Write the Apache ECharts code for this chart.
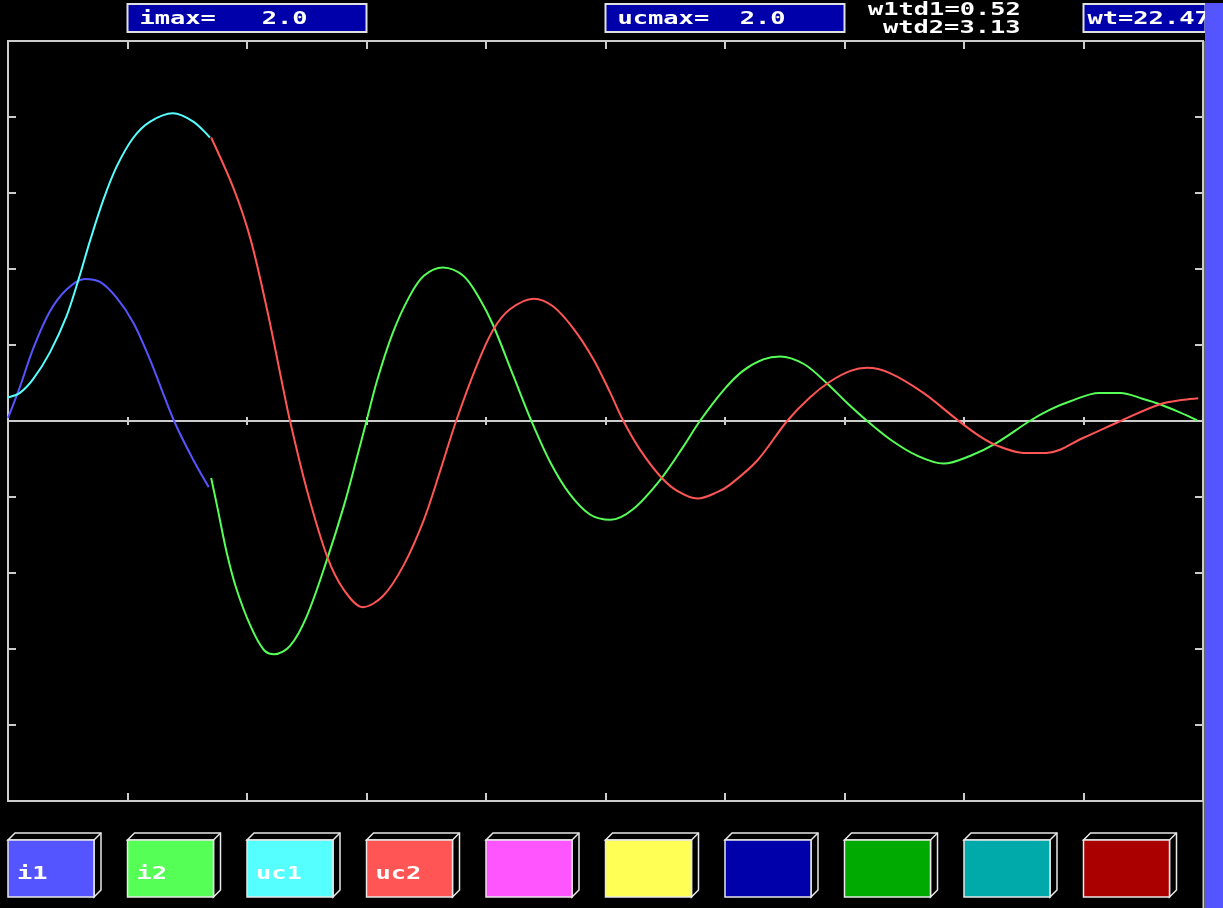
<!DOCTYPE html>
<html>
<head>
<meta charset="utf-8">
<script src="https://cdn.jsdelivr.net/npm/echarts@6/dist/echarts.min.js"></script>
<style>
html,body{margin:0;padding:0;background:#000;}
#chart{width:1223px;height:908px;}
</style>
</head>
<body>
<div id="chart"></div>
<script>
// curve values, [wt, value]
var i1 = [[0,0.04],[0.10,0.45],[0.21,0.95],[0.35,1.44],[0.49,1.73],[0.64,1.87],[0.77,1.83],[0.91,1.62],[1.05,1.29],[1.19,0.80],[1.39,0],[1.55,-0.51],[1.68,-0.87]];
var uc1 = [[0,0.31],[0.10,0.37],[0.21,0.55],[0.35,0.90],[0.49,1.38],[0.59,1.86],[0.69,2.39],[0.80,2.92],[0.91,3.35],[1.05,3.73],[1.19,3.94],[1.38,4.05],[1.55,3.94],[1.69,3.73]];
var i2 = [[1.70,-0.75],[1.75,-1.12],[1.83,-1.73],[1.91,-2.20],[2.03,-2.70],[2.14,-3.01],[2.23,-3.07],[2.36,-2.96],[2.50,-2.57],[2.67,-1.82],[2.81,-1.12],[2.92,-0.48],[3.00,0],[3.09,0.54],[3.22,1.16],[3.36,1.64],[3.48,1.91],[3.64,2.02],[3.81,1.91],[3.95,1.60],[4.06,1.26],[4.23,0.59],[4.38,0],[4.54,-0.55],[4.70,-0.96],[4.87,-1.23],[5.04,-1.30],[5.23,-1.16],[5.46,-0.77],[5.65,-0.34],[5.79,0],[5.99,0.41],[6.15,0.66],[6.32,0.81],[6.46,0.85],[6.66,0.75],[6.85,0.50],[7.02,0.24],[7.19,0],[7.38,-0.24],[7.60,-0.45],[7.83,-0.56],[8.05,-0.46],[8.27,-0.29],[8.55,0],[8.72,0.15],[8.89,0.26],[9.13,0.37],[9.31,0.37],[9.50,0.29],[9.64,0.22],[9.81,0.11],[9.95,0.01]];
var uc2 = [[1.70,3.73],[1.89,3.05],[2.03,2.39],[2.17,1.45],[2.30,0.45],[2.36,0],[2.50,-0.90],[2.67,-1.78],[2.81,-2.22],[2.97,-2.45],[3.14,-2.30],[3.31,-1.90],[3.48,-1.30],[3.62,-0.64],[3.75,0],[3.92,0.72],[4.06,1.20],[4.20,1.47],[4.40,1.61],[4.56,1.51],[4.73,1.22],[4.90,0.81],[5.04,0.37],[5.15,0],[5.29,-0.38],[5.46,-0.73],[5.60,-0.92],[5.77,-1.02],[5.93,-0.94],[6.04,-0.84],[6.27,-0.52],[6.52,0],[6.71,0.31],[6.88,0.52],[7.05,0.66],[7.19,0.70],[7.38,0.63],[7.66,0.37],[7.94,0.02],[8.13,-0.20],[8.27,-0.32],[8.50,-0.42],[8.69,-0.42],[9.00,-0.22],[9.31,0],[9.64,0.22],[9.84,0.28],[9.96,0.30]];

var buttonNames = ['i1','i2','uc1','uc2','','','','','',''];
var buttonColors = ['#5555FF','#55FF55','#55FFFF','#FF5555','#FF55FF','#FFFF55','#0000AA','#00AA00','#00AAAA','#AA0000'];
var imaxText = 'imax=   2.0';
var ucmaxText = 'ucmax=  2.0';
var wtd1Text = 'w1td1=0.52';
var wtd2Text = 'wtd2=3.13';
var wtText = 'wt=22.47';

var gridLeft = 8, gridTop = 41, gridW = 1195, gridH = 760;
var step = gridW / 10;
var lineGray = '#CCCCCC';
var monoFont = 'bold 18px "DejaVu Sans Mono"';

function label(x, y, str) {
    return {
        type: 'text', x: x, y: y, scaleX: 1.41, z: 100,
        style: { text: str, fill: '#FFFFFF', font: monoFont, textVerticalAlign: 'middle', verticalAlign: 'middle' }
    };
}
function box(x, w) {
    return {
        type: 'rect', z: 90,
        shape: { x: x, y: 4, width: w, height: 28 },
        style: { fill: '#0000AA', stroke: '#E0E0E0', lineWidth: 2 }
    };
}

var graphics = [];
graphics.push(box(gridLeft + step, step * 2));
graphics.push(label(gridLeft + step + 12, 19, imaxText));
graphics.push(box(gridLeft + step * 5, step * 2));
graphics.push(label(gridLeft + step * 5 + 12, 19, ucmaxText));
graphics.push(label(868, 10, wtd1Text));
graphics.push(label(883, 28, wtd2Text));
graphics.push(box(gridLeft + step * 9, 122));
graphics.push(label(gridLeft + step * 9 + 4, 19, wtText));
// right side bar
graphics.push({ type: 'rect', z: 120, shape: { x: 1205, y: 3, width: 18, height: 905 }, style: { fill: '#5555FF' } });
graphics.push({ type: 'line', z: 120, shape: { x1: 1203.5, y1: 41, x2: 1203.5, y2: 908 }, style: { stroke: lineGray, lineWidth: 2 } });

// buttons along the bottom
var bw = 86, bh = 57, by = 840, d = 7;
buttonColors.forEach(function (c, k) {
    var bx = gridLeft + step * k;
    graphics.push({
        type: 'polygon', z: 80,
        shape: { points: [[bx, by], [bx + d, by - d], [bx + bw + d, by - d], [bx + bw + d, by + bh - d], [bx + bw, by + bh], [bx + bw, by]] },
        style: { fill: '#000', stroke: '#E8E8E8', lineWidth: 1.5 }
    });
    graphics.push({
        type: 'line', z: 81,
        shape: { x1: bx + bw, y1: by, x2: bx + bw + d, y2: by - d },
        style: { stroke: '#E8E8E8', lineWidth: 1.5 }
    });
    graphics.push({
        type: 'rect', z: 82,
        shape: { x: bx, y: by, width: bw, height: bh },
        style: { fill: c, stroke: '#E8E8E8', lineWidth: 1.5 }
    });
    if (buttonNames[k]) {
        graphics.push(label(bx + 9, by + 34, buttonNames[k]));
    }
});

function tickAxis(pos, inside, len, offset, showLine) {
    return {
        type: 'value', min: 0, max: 10, interval: 1, position: pos, offset: offset || 0,
        axisLine: { show: !!showLine, onZero: false, lineStyle: { color: lineGray, width: 2 } },
        axisTick: { show: true, inside: inside, length: len, lineStyle: { color: lineGray, width: 2 } },
        axisLabel: { show: false }, splitLine: { show: false }
    };
}

var chart = echarts.init(document.getElementById('chart'));
var option = {
    backgroundColor: '#000000',
    animation: false,
    grid: {
        left: gridLeft, top: gridTop, width: gridW, height: gridH,
        show: true, borderColor: lineGray, borderWidth: 2, backgroundColor: '#000000'
    },
    xAxis: [
        tickAxis('bottom', true, 8),
        tickAxis('top', true, 8),
        tickAxis('bottom', true, 4, -gridH / 2, true),
        tickAxis('bottom', false, 4, -gridH / 2, false)
    ],
    yAxis: [
        {
            type: 'value', min: -5, max: 5, interval: 1, position: 'left',
            axisLine: { show: false, onZero: false },
            axisTick: { show: true, inside: true, length: 8, lineStyle: { color: lineGray, width: 2 } },
            axisLabel: { show: false }, splitLine: { show: false }
        },
        {
            type: 'value', min: -5, max: 5, interval: 1, position: 'right',
            axisLine: { show: false, onZero: false },
            axisTick: { show: true, inside: true, length: 8, lineStyle: { color: lineGray, width: 2 } },
            axisLabel: { show: false }, splitLine: { show: false }
        }
    ],
    series: [
        { name: 'i1', type: 'line', data: i1, smooth: 0.33, showSymbol: false, lineStyle: { color: '#5555FF', width: 2 } },
        { name: 'uc1', type: 'line', data: uc1, smooth: 0.33, showSymbol: false, lineStyle: { color: '#55FFFF', width: 2 } },
        { name: 'i2', type: 'line', data: i2, smooth: 0.33, showSymbol: false, lineStyle: { color: '#55FF55', width: 2 } },
        { name: 'uc2', type: 'line', data: uc2, smooth: 0.33, showSymbol: false, lineStyle: { color: '#FF5555', width: 2 } }
    ],
    graphic: graphics
};
chart.setOption(option);
</script>
</body>
</html>
